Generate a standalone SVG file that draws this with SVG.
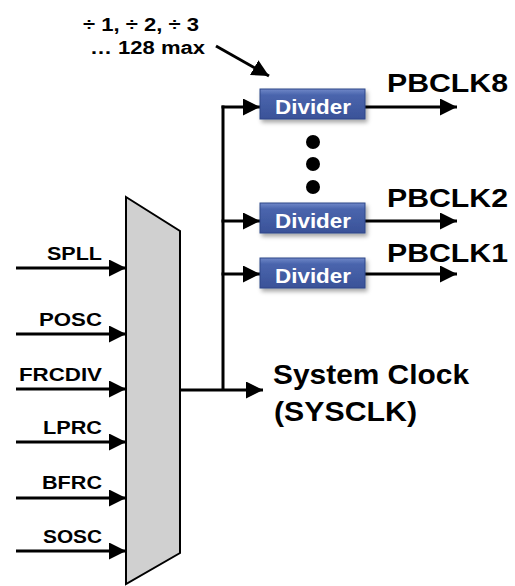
<svg xmlns="http://www.w3.org/2000/svg" width="515" height="586" viewBox="0 0 515 586">
  <style>
    .lbl { font-family: "Liberation Sans", Arial, sans-serif; font-weight: bold; fill: #000; }
    .in { font-size: 17.5px; }
    .out { font-size: 26px; }
    .sys { font-size: 28px; }
    .top { font-size: 18px; }
    .div { font-family: "Liberation Sans", Arial, sans-serif; font-weight: bold; font-size: 19.5px; fill: #fff; }
    .wire { stroke: #000; stroke-width: 3; fill: none; }
    .arr { marker-end: url(#ah); }
    .box { fill: url(#bg); stroke: #2f4788; stroke-width: 1; filter: url(#sh); }
  </style>
  <defs>
    <marker id="ah" markerUnits="userSpaceOnUse" markerWidth="18" markerHeight="18" refX="17" refY="8.5" orient="auto">
      <path d="M0,0 L17,8.5 L0,17 z" fill="#000"/>
    </marker>
    <linearGradient id="bg" x1="0" y1="0" x2="0" y2="1">
      <stop offset="0" stop-color="#7088c8"/>
      <stop offset="0.2" stop-color="#4a65ad"/>
      <stop offset="1" stop-color="#3a5298"/>
    </linearGradient>
    <filter id="sh" x="-10%" y="-20%" width="130%" height="160%">
      <feDropShadow dx="2" dy="3" stdDeviation="2" flood-color="#000" flood-opacity="0.35"/>
    </filter>
  </defs>
  <rect width="515" height="586" fill="#fff"/>

  <g id="connectors">
    <line class="wire arr" x1="16" y1="268" x2="126" y2="268"/>
    <line class="wire arr" x1="16" y1="334" x2="126" y2="334"/>
    <line class="wire arr" x1="16" y1="389" x2="126" y2="389"/>
    <line class="wire arr" x1="16" y1="442" x2="126" y2="442"/>
    <line class="wire arr" x1="16" y1="498" x2="126" y2="498"/>
    <line class="wire arr" x1="16" y1="551" x2="126" y2="551"/>
    <line class="wire arr" x1="180" y1="390" x2="263" y2="390"/>
    <line class="wire" x1="223" y1="105.5" x2="223" y2="390"/>
    <line class="wire arr" x1="221.5" y1="107" x2="260" y2="107"/>
    <line class="wire arr" x1="221.5" y1="221" x2="260" y2="221"/>
    <line class="wire arr" x1="221.5" y1="274" x2="260" y2="274"/>
    <line class="wire arr" x1="365" y1="107" x2="457" y2="107"/>
    <line class="wire arr" x1="365" y1="221" x2="457" y2="221"/>
    <line class="wire arr" x1="365" y1="274" x2="457" y2="274"/>
    <line class="wire arr" x1="216" y1="46" x2="269" y2="76"/>
  </g>

  <g id="mux">
    <polygon points="126,197 180,231 180,553 126,584" fill="#d0d0d0" stroke="#000" stroke-width="2"/>
  </g>

  <g id="inputs">
    <text class="lbl in" x="47" y="260" textLength="55" lengthAdjust="spacingAndGlyphs">SPLL</text>
    <text class="lbl in" x="39" y="326" textLength="63" lengthAdjust="spacingAndGlyphs">POSC</text>
    <text class="lbl in" x="19" y="381" textLength="83" lengthAdjust="spacingAndGlyphs">FRCDIV</text>
    <text class="lbl in" x="43" y="434" textLength="59" lengthAdjust="spacingAndGlyphs">LPRC</text>
    <text class="lbl in" x="42" y="489" textLength="60" lengthAdjust="spacingAndGlyphs">BFRC</text>
    <text class="lbl in" x="43" y="543" textLength="59" lengthAdjust="spacingAndGlyphs">SOSC</text>
  </g>

  <g id="divider8">
    <rect class="box" x="260" y="89" width="105" height="30"/>
    <text class="div" x="275" y="114" textLength="76" lengthAdjust="spacingAndGlyphs">Divider</text>
  </g>
  <g id="divider2">
    <rect class="box" x="260" y="203" width="105" height="30"/>
    <text class="div" x="275" y="228" textLength="76" lengthAdjust="spacingAndGlyphs">Divider</text>
  </g>
  <g id="divider1">
    <rect class="box" x="260" y="258" width="105" height="30"/>
    <text class="div" x="275" y="283" textLength="76" lengthAdjust="spacingAndGlyphs">Divider</text>
  </g>

  <g id="ellipsis">
    <circle cx="313" cy="142" r="7" fill="#000"/>
    <circle cx="313" cy="164" r="7" fill="#000"/>
    <circle cx="313" cy="187" r="7" fill="#000"/>
  </g>

  <g id="outputs">
    <text class="lbl out" x="387" y="92" textLength="121" lengthAdjust="spacingAndGlyphs">PBCLK8</text>
    <text class="lbl out" x="387" y="207" textLength="121" lengthAdjust="spacingAndGlyphs">PBCLK2</text>
    <text class="lbl out" x="387" y="262" textLength="121" lengthAdjust="spacingAndGlyphs">PBCLK1</text>
  </g>

  <g id="sysclk">
    <text class="lbl sys" x="273" y="384" textLength="196" lengthAdjust="spacingAndGlyphs">System Clock</text>
    <text class="lbl sys" x="274" y="421" textLength="143" lengthAdjust="spacingAndGlyphs">(SYSCLK)</text>
  </g>

  <g id="divisor-label">
    <text class="lbl top" x="83" y="31" textLength="116" lengthAdjust="spacingAndGlyphs">÷ 1, ÷ 2, ÷ 3</text>
    <text class="lbl top" x="90" y="54" textLength="115" lengthAdjust="spacingAndGlyphs">… 128 max</text>
  </g>
</svg>
